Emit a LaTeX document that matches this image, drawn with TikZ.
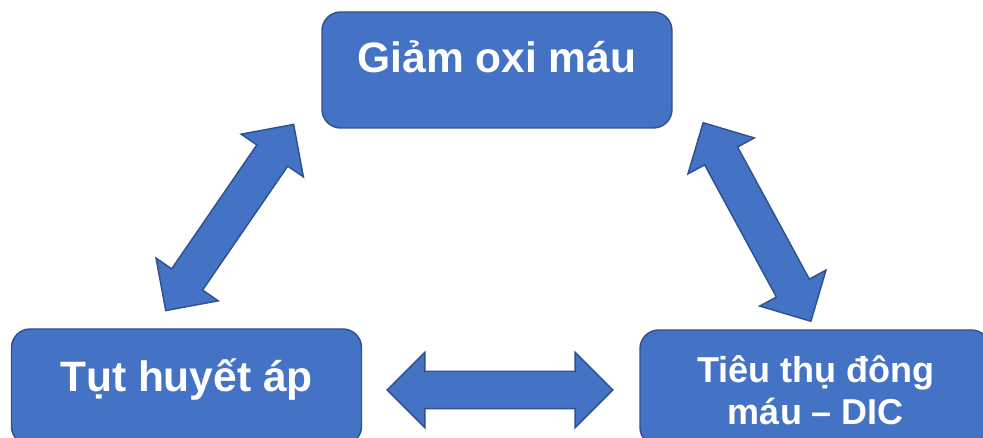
\documentclass[tikz,border=0pt]{standalone}
\usepackage{fontspec}
\setmainfont{Liberation Sans}
\usetikzlibrary{shapes.arrows}
\definecolor{azul}{HTML}{4472C4}
\definecolor{borde}{HTML}{2F528F}

\begin{document}
\begin{tikzpicture}[
    x=0.75pt, y=-0.75pt,
    caja/.style    = {rectangle, rounded corners=14pt, draw=borde,
                      fill=azul, line width=1.1pt, minimum width=262.5pt,
                      minimum height=87pt, inner sep=0pt},
    texto/.style   = {text=white, inner sep=0pt,
                      font=\fontsize{31.9}{36}\selectfont\bfseries},
    textop/.style  = {text=white, inner sep=0pt, align=center,
                      font=\fontsize{27}{31.5}\selectfont\bfseries},
    dflecha/.style = {double arrow, draw=borde, fill=azul, line width=1.1pt,
                      double arrow head extend=14.25pt,
                      double arrow tip angle=90,
                      inner xsep=70.1pt, inner ysep=13.5pt,
                      minimum width=0pt, minimum height=0pt},
  ]
  \useasboundingbox (0,0) rectangle (983,438);

  %-------------------------------------------------- cajas
  \node[caja] (O) at (497,70)    {};
  \node[caja] (H) at (186.5,387) {};
  \node[caja] (D) at (815,388)   {};

  \node[texto, anchor=base]  (tO) at (497,73)    {Giảm oxi máu};
  \node[texto, anchor=base]  (tH) at (186.5,392) {Tụt huyết áp};
  \node[textop, anchor=base] (tD) at (816,425)   {Tiêu thụ đông\\máu – DIC};

  %-------------------------------------------------- flechas dobles
  \node[dflecha, rotate=55.5]  (OH) at (229.7,217.5) {};
  \node[dflecha, rotate=-61.5] (OD) at (757,222)     {};
  \node[dflecha]               (HD) at (500,390)     {};
\end{tikzpicture}
\end{document}
